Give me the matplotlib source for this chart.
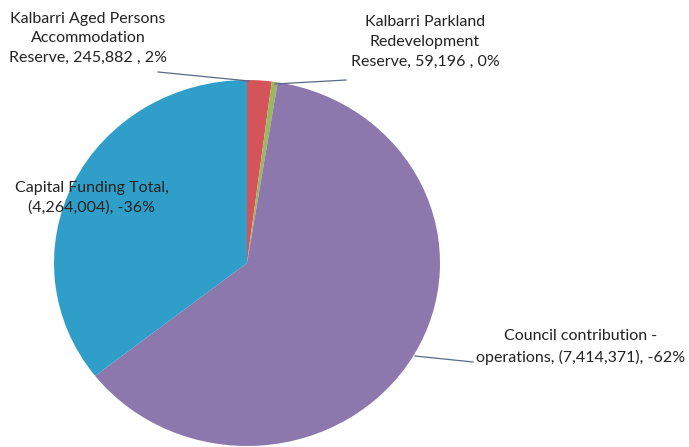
import numpy as np
import matplotlib
matplotlib.use('Agg')
import matplotlib.pyplot as plt

# slices, clockwise from 12 o'clock
names = ['Kalbarri Aged Persons\nAccommodation\nReserve, ',
         'Kalbarri Parkland\nRedevelopment\nReserve, ',
         'Council contribution -\noperations, ',
         'Capital Funding Total,\n']
values = [245882, 59196, -7414371, -4264004]
colors = ['#d5545a', '#9cb85e', '#8d78ad', '#2f9fca']

# label layout in pixels (x centre, y centre) and leader lines
label_pos = [(88, 38), (425, 42), (581, 347), (92, 198)]
leaders = [[(158, 72), (249, 81)], [(275, 84), (346, 80)],
           [(415, 356), (473, 362)], None]

W, H = 689, 447
cx, cy, rx, ry = 247, 263, 193, 183

plt.rcParams['font.family'] = ['Lato', 'DejaVu Sans']

fig = plt.figure(figsize=(W / 100, H / 100), dpi=100)
fig.patch.set_facecolor('white')

# pie axes, stretched slightly like the scan
pie_ax = fig.add_axes([(cx - rx) / W, (H - cy - ry) / H, 2 * rx / W, 2 * ry / H])
sizes = np.abs(values)
pie_ax.pie(sizes, colors=colors, startangle=90, counterclock=False,
           wedgeprops=dict(linewidth=0))
pie_ax.set_aspect('auto')
pie_ax.set_xlim(-1, 1)
pie_ax.set_ylim(-1, 1)
pie_ax.axis('off')

# overlay in pixel coordinates for the labels
ax = fig.add_axes([0, 0, 1, 1], facecolor='none')
ax.set_xlim(0, W)
ax.set_ylim(H, 0)
ax.axis('off')

total = sizes.sum()
for name, v, pos, ld in zip(names, values, label_pos, leaders):
    pct = round(100 * abs(v) / total)
    if v < 0:
        txt = f'{name}({-v:,}), -{pct}%'
    else:
        txt = f'{name}{v:,} , {pct}%'
    ax.text(pos[0], pos[1], txt, ha='center', va='center', fontsize=11.5,
            color='#222222', linespacing=1.5)
    if ld is not None:
        xs, ys = zip(*ld)
        ax.plot(xs, ys, color='#5a6a86', lw=0.9)

fig.savefig('out.png', dpi=100)
